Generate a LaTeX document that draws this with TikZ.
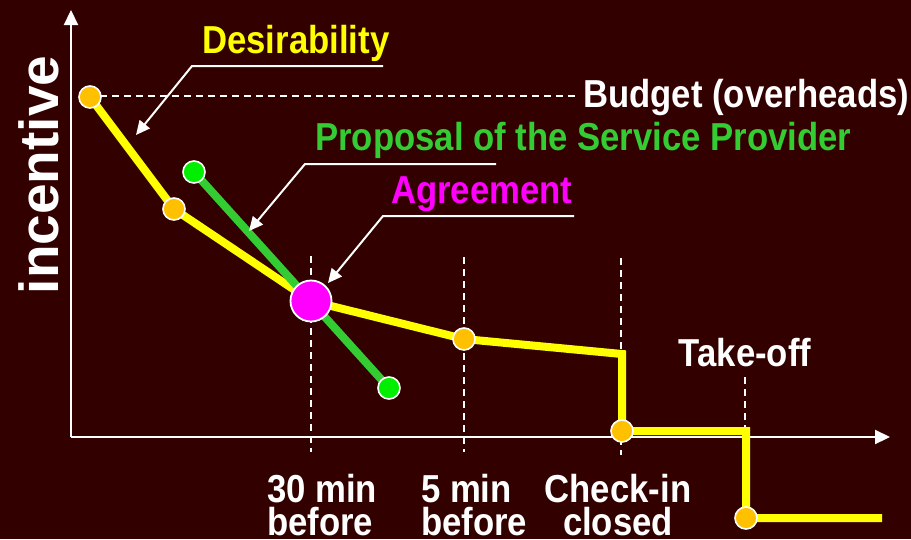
\documentclass[tikz,border=0pt]{standalone}
\usepackage{fontspec}
\setmainfont{Liberation Sans}
\newfontfamily\narfont{Liberation Sans}[FakeStretch=0.89]
\usetikzlibrary{arrows.meta}
\definecolor{bgc}{RGB}{51,0,0}
\definecolor{yel}{RGB}{255,255,0}
\definecolor{org}{RGB}{255,192,0}
\definecolor{grl}{RGB}{51,204,51}
\definecolor{grd}{RGB}{0,238,0}
\definecolor{mag}{RGB}{255,0,255}
\tikzset{
  lbl/.style={font=\narfont\bfseries\fontsize{39}{33}\selectfont, inner sep=0pt},
  axisline/.style={white, line width=2.2pt, -{Triangle[length=15pt,width=14pt]}},
  guide/.style={white, line width=1.6pt, dash pattern=on 7pt off 5pt},
  leader/.style={white, line width=2pt, -{Triangle[length=14pt,width=13pt]}},
  odot/.style={circle, fill=org, draw=white, line width=1.6pt, minimum size=22pt, inner sep=0pt},
  gdot/.style={circle, fill=grd, draw=white, line width=1.6pt, minimum size=22pt, inner sep=0pt},
  adot/.style={circle, fill=mag, draw=white, line width=1.8pt, minimum width=38pt, minimum height=41pt, inner sep=0pt},
  yline/.style={yel, line width=8pt, line join=miter},
  gline/.style={grl, line width=8pt}
}
\begin{document}
\begin{tikzpicture}[x=1pt,y=-1pt]
\fill[bgc] (0,0) rectangle (911,539);
\useasboundingbox (0,0) rectangle (911,539);

% axes
\coordinate (O) at (71,437);
\coordinate (ytip) at (71,10);
\coordinate (xtip) at (890,437);
\draw[axisline] (O) -- (ytip);
\draw[axisline] (O) -- (xtip);

% guides
\coordinate (b0) at (100,96);
\coordinate (b1) at (578,96);
\draw[guide] (b0) -- (b1);
\coordinate (g1a) at (311,256); \coordinate (g1b) at (311,452);
\coordinate (g2a) at (464,257); \coordinate (g2b) at (464,452);
\coordinate (g3a) at (621,258); \coordinate (g3b) at (621,455);
\coordinate (g4a) at (745,377); \coordinate (g4b) at (745,440);
\draw[guide] (g1a) -- (g1b);
\draw[guide] (g2a) -- (g2b);
\draw[guide] (g3a) -- (g3b);
\draw[guide] (g4a) -- (g4b);

% curve points
\coordinate (p1) at (90,97);
\coordinate (p2) at (174,209);
\coordinate (pa) at (311,301);
\coordinate (p3) at (464,339);
\coordinate (p4) at (622,354);
\coordinate (p5) at (622,431);
\coordinate (p6) at (746,431);
\coordinate (p7) at (746,518);
\coordinate (p8) at (882,518);
\coordinate (q1) at (194,172);
\coordinate (q2) at (389,388);

\draw[yline] (p1) -- (p2) -- (pa) -- (p3) -- (p4) -- (p5) -- (p6) -- (p7) -- (p8);
\draw[gline] (q1) -- (q2);

\node[odot] (d1) at (p1) {};
\node[odot] (d2) at (p2) {};
\node[odot] (d3) at (p3) {};
\node[odot] (d4) at (p5) {};
\node[odot] (d5) at (p7) {};
\node[gdot] (e1) at (q1) {};
\node[gdot] (e2) at (q2) {};
\node[adot] (agr) at (pa) {};

% labels
\node[lbl, white, anchor=base west] (budget) at (583,107) {Budget (overheads)};
\node[lbl, yel, anchor=base west] (desir) at (202,53) {Desirability};
\node[lbl, grl, anchor=base west] (prop) at (315,150) {Proposal of the Service Provider};
\node[lbl, mag, anchor=base west] (agrt) at (391,203) {Agreement};
\node[lbl, white, anchor=base] (take) at (745,366) {Take-off};
\node[lbl, white, anchor=base west, align=left] (t30) at (267,535) {30 min\\before};
\node[lbl, white, anchor=base west, align=left] (t5) at (421,535) {5 min\\before};
\node[lbl, white, anchor=base, align=center] (tci) at (618,535) {Check-in\\closed};
\node[font=\bfseries\fontsize{55}{60}\selectfont, white, rotate=90, anchor=base, inner sep=0pt] (inc) at (58,175) {incentive};

% leaders
\coordinate (l1a) at (383,66); \coordinate (l1b) at (192,66); \coordinate (l1c) at (136,135);
\coordinate (l2a) at (496,164); \coordinate (l2b) at (305,164); \coordinate (l2c) at (249,231);
\coordinate (l3a) at (574,216); \coordinate (l3b) at (383,216); \coordinate (l3c) at (328,283);
\draw[leader] (l1a) -- (l1b) -- (l1c);
\draw[leader] (l2a) -- (l2b) -- (l2c);
\draw[leader] (l3a) -- (l3b) -- (l3c);
\end{tikzpicture}
\end{document}
